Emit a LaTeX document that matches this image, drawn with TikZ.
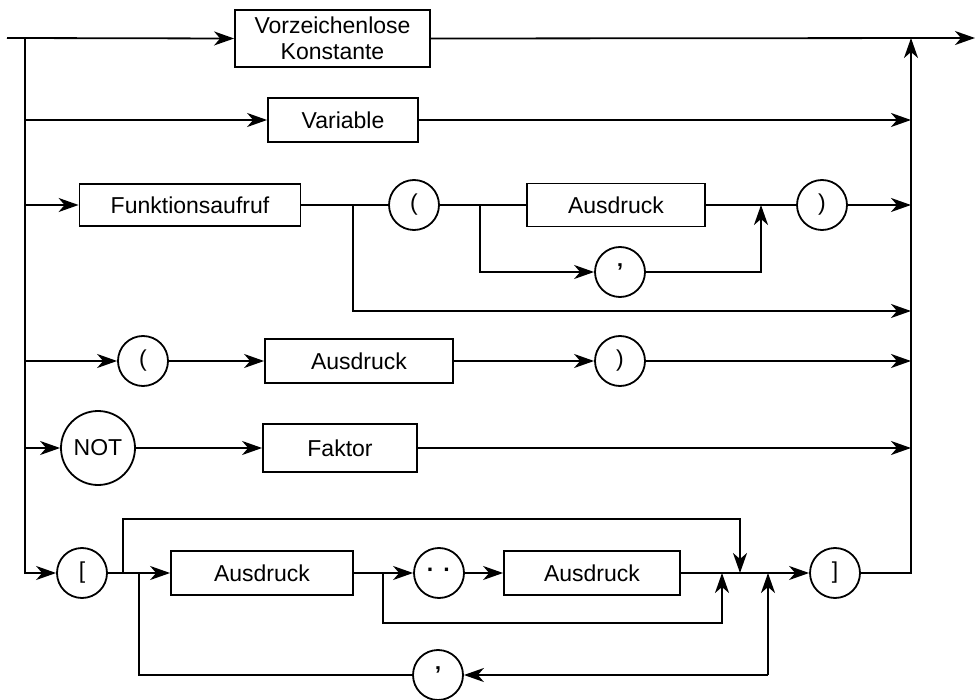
\documentclass[tikz,border=0pt]{standalone}
\usepackage{fontspec}
\setmainfont{Liberation Sans}
\usetikzlibrary{arrows.meta}
\begin{document}
\begin{tikzpicture}[x=0.5pt,y=-0.5pt, line width=0.9pt,
  box/.style={draw, rectangle, inner sep=0pt, font=\fontsize{11.5}{13}\selectfont},
  circ/.style={draw, circle, minimum size=25pt, inner sep=0pt, font=\fontsize{11.5}{13}\selectfont},
  arr/.style={-{Stealth[length=10pt,width=7pt,inset=3pt]}}]
\useasboundingbox (0,0) rectangle (975,700);

% nodes
\node[box, minimum width=97.5pt, minimum height=28.5pt, align=center] (vk) at (332.5,38.5) {Vorzeichenlose\\Konstante};
\node[box, minimum width=75pt, minimum height=22pt] (var) at (343,120) {Variable};
\node[box, minimum width=110.5pt, minimum height=21pt] (fa) at (190,205) {Funktionsaufruf};
\node[circ] (lp1) at (414,205) {(};
\node[box, minimum width=89pt, minimum height=21.5pt] (a1) at (616,205) {Ausdruck};
\node[circ] (cm1) at (620,272) {\bfseries '};
\node[circ] (rp1) at (822,205) {)};
\node[circ] (lp2) at (143,361) {(};
\node[box, minimum width=94pt, minimum height=22pt] (a2) at (359,361) {Ausdruck};
\node[circ] (rp2) at (620,361) {)};
\node[circ, minimum size=37pt] (not) at (98,448) {NOT};
\node[box, minimum width=77pt, minimum height=24pt] (fk) at (340,448) {Faktor};
\node[circ] (lb) at (82,573) {[};
\node[box, minimum width=91pt, minimum height=22pt] (a3) at (262,573) {Ausdruck};
\node[circ] (dd) at (439,573) {\bfseries\raisebox{-1.2pt}{·\hspace{4.5pt}·}};
\node[box, minimum width=88pt, minimum height=22pt] (a4) at (592,573) {Ausdruck};
\node[circ] (rb) at (835,573) {]};
\node[circ] (cm2) at (438,675) {\bfseries '};

% coordinates
\coordinate (in) at (7,38);
\coordinate (out) at (975,38);
\coordinate (L1) at (25,38);
\coordinate (R1) at (911,38);
\coordinate (b1) at (353,205);
\coordinate (b1d) at (353,311);
\coordinate (b2) at (480,205);
\coordinate (j1) at (761,205);
\coordinate (t0) at (123,573);
\coordinate (tb) at (123,519);
\coordinate (t1) at (740,573);
\coordinate (d0) at (383,573);
\coordinate (dl) at (383,623);
\coordinate (d1) at (722,573);
\coordinate (c0) at (768,573);
\coordinate (c0d) at (768,675);
\coordinate (jl) at (139,573);

% row 1
\draw[arr] (in) -- (vk.west);
\draw[arr] (vk.east) -- (out);
% left spine
\draw[arr] (L1) |- (lb.west);
\draw[arr] (L1 |- var.west) -- (var.west);
\draw[arr] (L1 |- fa.west) -- (fa.west);
\draw[arr] (L1 |- lp2.west) -- (lp2.west);
\draw[arr] (L1 |- not.west) -- (not.west);
% right spine
\draw[arr] (rb.east) -| (R1);
\draw[arr] (var.east) -- (R1 |- var.east);
% row 3
\draw (fa.east) -- (lp1.west);
\draw (lp1.east) -- (a1.west);
\draw (a1.east) -- (rp1.west);
\draw[arr] (rp1.east) -- (R1 |- rp1.east);
\draw[arr] (b1) -- (b1d) -- (R1 |- b1d);
\draw[arr] (b2) |- (cm1.west);
\draw[arr] (cm1.east) -| (j1);
% row 4
\draw[arr] (lp2.east) -- (a2.west);
\draw[arr] (a2.east) -- (rp2.west);
\draw[arr] (rp2.east) -- (R1 |- rp2.east);
% row 5
\draw[arr] (not.east) -- (fk.west);
\draw[arr] (fk.east) -- (R1 |- fk.east);
% row 6
\draw[arr] (lb.east) -- (a3.west);
\draw[arr] (t0) -- (tb) -| (t1);
\draw[arr] (a3.east) -- (dd.west);
\draw[arr] (dd.east) -- (a4.west);
\draw[arr] (d0) -- (dl) -| (d1);
\draw[arr] (a4.east) -- (rb.west);
\draw[arr] (c0d) -- (c0);
\draw[arr] (c0d) -- (cm2.east);
\draw (cm2.west) -| (jl);
\end{tikzpicture}
\end{document}
